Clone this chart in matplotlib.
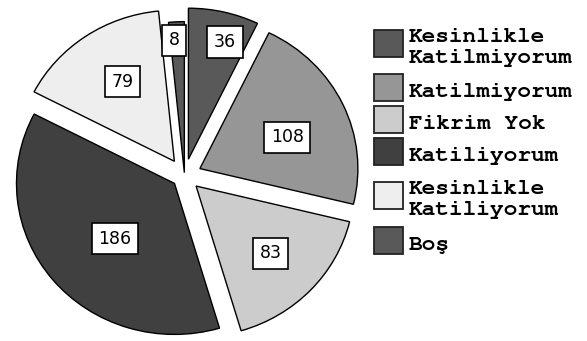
import numpy as np
import matplotlib
matplotlib.use("Agg")
import matplotlib.pyplot as plt
from matplotlib.patches import Rectangle

# data
labels = ["Kesinlikle\nKatilmiyorum", "Katilmiyorum", "Fikrim Yok",
          "Katiliyorum", "Kesinlikle\nKatiliyorum", "Boş"]
counts = [36, 108, 83, 186, 79, 8]
colors = ["#595959", "#969696", "#cccccc", "#404040", "#eeeeee", "#595959"]

# layout (pixel units, figure is 587x341)
W, H = 587, 341
k = 158 / 151          # the original pie is a bit wider than tall
R = 158
cx, cy = 184.5, (H - 175.5) * k
explode = [17.5, 17, 16, 13, 18, 3]
label_frac = [0.81, 0.59, 0.65, 0.525, 0.62, 0.88]
label_dang = [-3.7, -4.7, 0.3, 4.5, -2.3, 1.4]
legend_tops = [30, 74, 106, 138, 182, 227]
mono = ["Nimbus Mono PS", "FreeMono", "Courier New", "Liberation Mono"]

fig = plt.figure(figsize=(W / 100, H / 100), dpi=100)
ax = fig.add_axes([0, 0, 1, 1])
wedges, _ = ax.pie(counts, colors=colors, startangle=90, counterclock=False,
                   radius=R, center=(cx, cy), explode=explode,
                   wedgeprops=dict(edgecolor="black", linewidth=1.0))
ax.set_aspect("auto")
ax.set_xlim(0, W)
ax.set_ylim(0, H * k)
ax.axis("off")

# value boxes inside the slices
for w, n, f, da in zip(wedges, counts, label_frac, label_dang):
    mid = np.deg2rad((w.theta1 + w.theta2) / 2 + da)
    x = w.center[0] + f * R * np.cos(mid)
    y = w.center[1] + f * R * np.sin(mid)
    ax.text(x, y, str(n), ha="center", va="center", fontsize=12.5,
            family="DejaVu Sans",
            bbox=dict(boxstyle="square,pad=0.38", fc="white", ec="black", lw=1.2))

# legend on the right, in plain pixel coordinates
lax = fig.add_axes([0, 0, 1, 1])
lax.set_xlim(0, W)
lax.set_ylim(H, 0)
lax.axis("off")
for top, lab, c in zip(legend_tops, labels, colors):
    lax.add_patch(Rectangle((373.5, top), 29, 27, fc=c, ec="#222222", lw=1.3))
    # va="baseline" pins the last line's baseline
    base = top + 33 if "\n" in lab else top + 23
    lax.text(409, base, lab, ha="left", va="baseline", fontsize=16.4,
             family=mono, fontweight="bold", linespacing=1.2)

fig.savefig("out.png", dpi=100, facecolor="white")
